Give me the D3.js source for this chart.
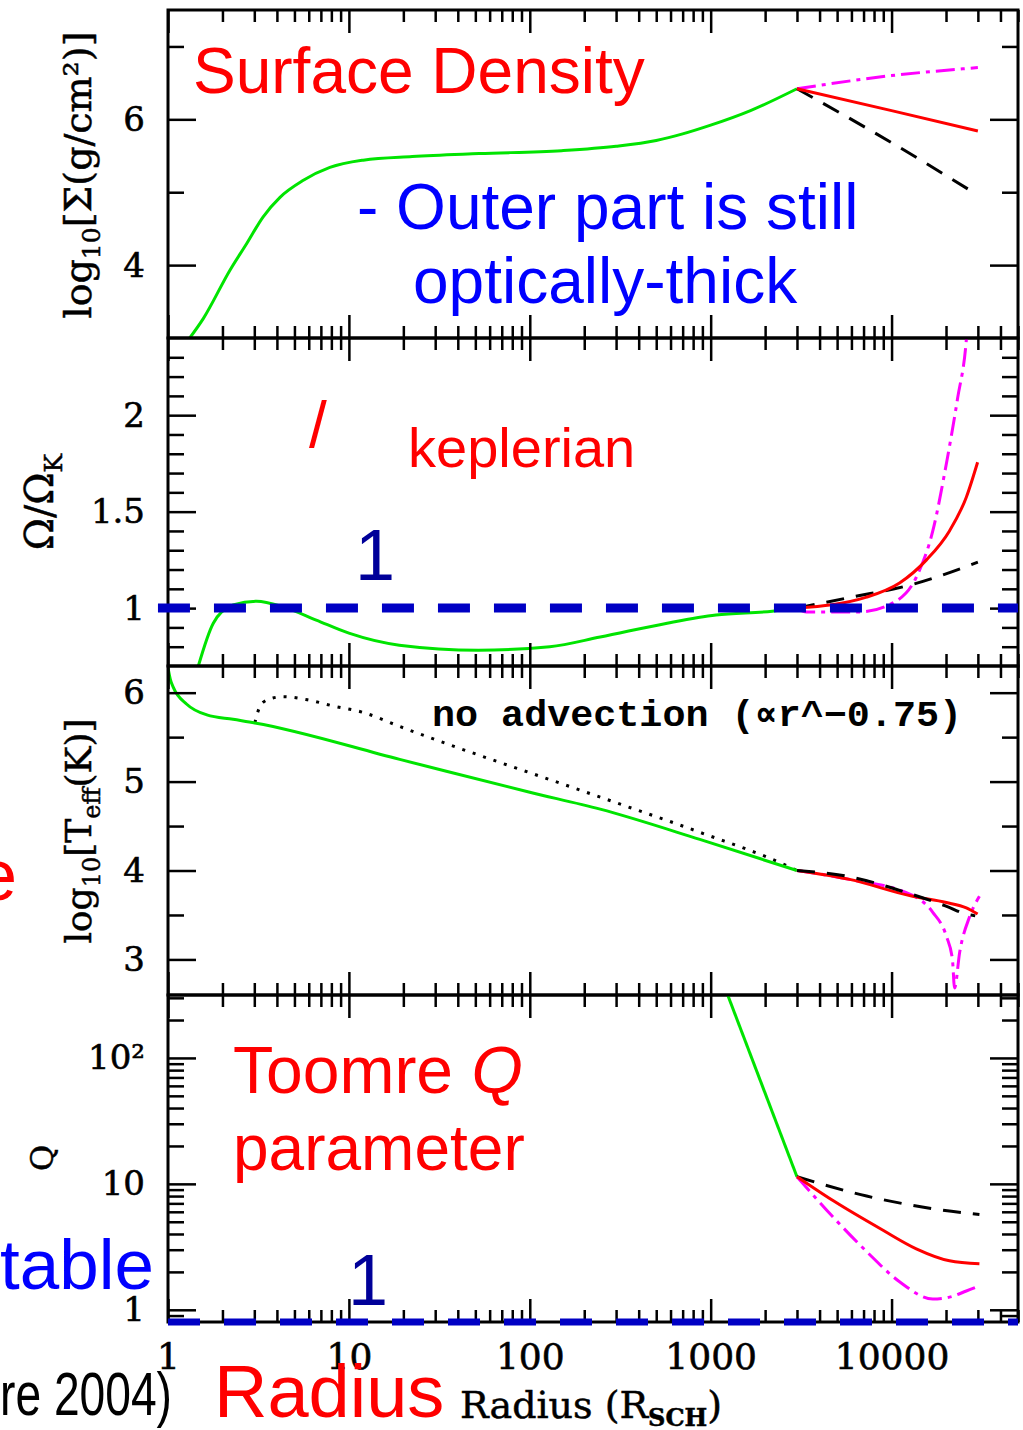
<!DOCTYPE html>
<html>
<head>
<meta charset="utf-8">
<script src="https://cdn.jsdelivr.net/npm/d3@7"></script>
<style>
  body { margin: 0; background: #fff; }
  text { font-family: 'Liberation Sans', Arial, sans-serif; }
  .ax text { font-family: 'DejaVu Serif', serif; fill: #000; stroke: #000; stroke-width: 0.6; }
</style>
</head>
<body>
<script>
// axe des rayons (en rayons de Schwarzschild)
const X_MAJOR = [1, 10, 100, 1000, 10000]
const X_LABELS = ['1', '10', '100', '1000', '10000']

// panneau 1 : densité de surface log10[Σ]
const SIGMA_MAJOR = [4, 6]
const SIGMA_MINOR = [5, 7]
const SIGMA_LABELS = ['4', '6']
const SIGMA_GREEN_R = [1.3, 1.57, 2.2, 2.73, 3.35, 4.16, 5.57, 7.85, 12, 22.4, 52.5, 150, 300, 500, 700, 1000, 1660, 3000]
const SIGMA_GREEN = [2.98, 3.27, 3.93, 4.30, 4.66, 4.93, 5.16, 5.34, 5.44, 5.49, 5.53, 5.57, 5.63, 5.71, 5.80, 5.92, 6.12, 6.42]
const SIGMA_OUT_R = [3000, 10000, 30000]
const SIGMA_RED = [6.42, 6.12, 5.84]
const SIGMA_BLACK = [6.42, 5.68, 4.96]
const SIGMA_MAGENTA = [6.42, 6.60, 6.71]

// panneau 2 : Ω/ΩK
const OMEGA_MAJOR = [1, 1.5, 2]
const OMEGA_MINOR = [0.8, 0.9, 1.1, 1.2, 1.3, 1.4, 1.6, 1.7, 1.8, 1.9, 2.1, 2.2, 2.3]
const OMEGA_LABELS = ['1', '1.5', '2']
const OMEGA_GREEN_R = [1.45, 1.78, 2.29, 3.09, 4.37, 6.6, 10, 19, 52, 129, 245, 575, 1070, 2190, 3000]
const OMEGA_GREEN = [0.68, 0.922, 1.016, 1.036, 1.005, 0.938, 0.870, 0.808, 0.782, 0.80, 0.85, 0.922, 0.964, 0.984, 1.0]
const OMEGA_RED_R = [3000, 7280, 11070, 15600, 20900, 25900, 29900]
const OMEGA_RED = [1.0, 1.057, 1.13, 1.25, 1.40, 1.575, 1.756]
const OMEGA_BLACK_R = [3000, 6000, 12600, 30000]
const OMEGA_BLACK = [1.0, 1.057, 1.119, 1.238]
const OMEGA_MAGENTA_R = [3000, 3390, 6600, 10100, 13700, 16900, 20100, 23200, 25900, 27500]
const OMEGA_MAGENTA = [1.0, 0.98, 0.98, 1.026, 1.16, 1.40, 1.75, 2.09, 2.39, 2.75]
const OMEGA_REF_R = [0.88, 50000]
const OMEGA_REF = 1

// panneau 3 : log10[Teff]
const TEFF_MAJOR = [3, 4, 5, 6]
const TEFF_MINOR = [3.5, 4.5, 5.5]
const TEFF_LABELS = ['3', '4', '5', '6']
const TEFF_GREEN_R = [1.0, 1.03, 1.07, 1.27, 1.64, 2.29, 3.02, 19.1, 100, 245, 871, 3000]
const TEFF_GREEN = [6.28, 6.15, 6.06, 5.87, 5.75, 5.70, 5.66, 5.25, 4.88, 4.69, 4.35, 4.0]
const TEFF_DOT_R = [3.02, 3.1, 3.35, 3.8, 4.32, 5.9, 8.2, 11.9, 19.1, 266, 871, 2730, 3000]
const TEFF_DOT = [5.66, 5.75, 5.89, 5.94, 5.955, 5.92, 5.85, 5.78, 5.62, 4.80, 4.43, 4.04, 4.0]
const TEFF_RED_R = [3000, 5860, 13070, 20100, 25900, 29900]
const TEFF_RED = [4.0, 3.90, 3.71, 3.64, 3.58, 3.51]
const TEFF_BLACK_R = [3000, 5860, 12600, 20000, 25900, 29000]
const TEFF_BLACK = [4.0, 3.93, 3.74, 3.60, 3.51, 3.49]
const TEFF_MAGENTA_R = [3000, 5860, 13070, 16900, 20100, 21700, 22300, 23800, 27000, 30600]
const TEFF_MAGENTA = [4.0, 3.90, 3.72, 3.53, 3.26, 3.0, 2.68, 3.08, 3.48, 3.71]

// panneau 4 : paramètre Q de Toomre
const Q_MAJOR = [1, 10, 100]
const Q_MINOR = [0.9, 2, 3, 4, 5, 6, 7, 8, 9, 20, 30, 40, 50, 60, 70, 80, 90, 200, 300]
const Q_LABELS = ['1', '10', '10²']
const Q_GREEN_R = [1242, 3000]
const Q_GREEN = [316, 11.4]
const Q_BLACK_R = [3000, 7280, 16900, 30600]
const Q_BLACK = [11.4, 8.0, 6.35, 5.7]
const Q_RED_R = [3000, 4720, 8920, 13700, 20900, 30600]
const Q_RED = [11.4, 7.4, 4.3, 3.05, 2.45, 2.32]
const Q_MAGENTA_R = [3000, 4720, 7280, 11070, 16900, 20900, 25900, 30600]
const Q_MAGENTA = [11.4, 5.5, 2.9, 1.67, 1.22, 1.26, 1.41, 1.55]
const Q_REF_R = [1, 50000]
const Q_REF = 0.8

// dimensions
const WIDTH = 1023
const HEIGHT = 1430
const LEFT = 168
const RIGHT = 1018
const EDGES = [10, 338, 666, 995, 1322]

const svg = d3.select('body').append('svg')
  .attr('width', WIDTH)
  .attr('height', HEIGHT)

const x = d3.scaleLog().domain([1, 5e4]).range([LEFT, RIGHT])

const xMinor = []
X_MAJOR.forEach(d => { for (let k = 2; k <= 9; k++) if (d * k <= 5e4) xMinor.push(d * k) })

const STYLE = {
  green: { stroke: '#00e400', dash: null },
  red: { stroke: '#ff0000', dash: null },
  black: { stroke: '#000', dash: '18,12' },
  magenta: { stroke: '#ff00ff', dash: '19,6,4,6' },
  dotted: { stroke: '#000', dash: '3,8' }
}

const panels = [
  { y: d3.scaleLinear().domain([3, 7.5]), major: SIGMA_MAJOR, minor: SIGMA_MINOR, labels: SIGMA_LABELS,
    series: [
      [SIGMA_GREEN_R, SIGMA_GREEN, 'green'],
      [SIGMA_OUT_R, SIGMA_MAGENTA, 'magenta'],
      [SIGMA_OUT_R, SIGMA_BLACK, 'black'],
      [SIGMA_OUT_R, SIGMA_RED, 'red']
    ] },
  { y: d3.scaleLinear().domain([0.7, 2.4]), major: OMEGA_MAJOR, minor: OMEGA_MINOR, labels: OMEGA_LABELS,
    series: [
      [OMEGA_GREEN_R, OMEGA_GREEN, 'green'],
      [OMEGA_BLACK_R, OMEGA_BLACK, 'black'],
      [OMEGA_MAGENTA_R, OMEGA_MAGENTA, 'magenta'],
      [OMEGA_RED_R, OMEGA_RED, 'red']
    ] },
  { y: d3.scaleLinear().domain([2.6, 6.3]), major: TEFF_MAJOR, minor: TEFF_MINOR, labels: TEFF_LABELS,
    series: [
      [TEFF_DOT_R, TEFF_DOT, 'dotted'],
      [TEFF_GREEN_R, TEFF_GREEN, 'green'],
      [TEFF_MAGENTA_R, TEFF_MAGENTA, 'magenta'],
      [TEFF_RED_R, TEFF_RED, 'red'],
      [TEFF_BLACK_R, TEFF_BLACK, 'black']
    ] },
  { y: d3.scaleLog().domain([0.8, 316]), major: Q_MAJOR, minor: Q_MINOR, labels: Q_LABELS,
    series: [
      [Q_GREEN_R, Q_GREEN, 'green'],
      [Q_BLACK_R, Q_BLACK, 'black'],
      [Q_MAGENTA_R, Q_MAGENTA, 'magenta'],
      [Q_RED_R, Q_RED, 'red']
    ] }
]

panels.forEach((p, i) => {
  const top = EDGES[i]
  const bottom = EDGES[i + 1]
  p.y.range([bottom, top])
  const g = svg.append('g')

  // zone de découpe
  g.append('clipPath').attr('id', 'clip' + i)
    .append('rect').attr('x', LEFT).attr('y', top)
    .attr('width', RIGHT - LEFT).attr('height', bottom - top)

  const plot = g.append('g').attr('clip-path', `url(#clip${i})`)
  p.series.forEach(([rs, vs, s]) => {
    const line = d3.line()
      .x(d => x(d[0]))
      .y(d => p.y(d[1]))
      .curve(d3.curveMonotoneX)
    plot.append('path')
      .attr('d', line(d3.zip(rs, vs)))
      .attr('fill', 'none')
      .attr('stroke', STYLE[s].stroke)
      .attr('stroke-width', 3)
      .attr('stroke-dasharray', STYLE[s].dash)
  })

  // graduations
  const ax = g.append('g').attr('class', 'ax')
  const tick = (sel) => sel.call(s => s.select('.domain').remove())
    .call(s => s.selectAll('line').attr('stroke', '#000').attr('stroke-width', 2.5))

  ax.append('g').attr('transform', `translate(0,${top})`)
    .call(d3.axisTop(x).tickValues(X_MAJOR).tickSize(-23).tickFormat('')).call(tick)
  ax.append('g').attr('transform', `translate(0,${top})`)
    .call(d3.axisTop(x).tickValues(xMinor).tickSize(-12).tickFormat('')).call(tick)
  ax.append('g').attr('transform', `translate(0,${bottom})`)
    .call(d3.axisBottom(x).tickValues(X_MAJOR).tickSize(-23).tickPadding(21)
      .tickFormat((d, k) => i === 3 ? X_LABELS[k] : '')).call(tick)
    .selectAll('text').attr('font-size', 36)
  ax.append('g').attr('transform', `translate(0,${bottom})`)
    .call(d3.axisBottom(x).tickValues(xMinor).tickSize(-12).tickFormat('')).call(tick)

  ax.append('g').attr('transform', `translate(${LEFT},0)`)
    .call(d3.axisLeft(p.y).tickValues(p.major).tickSize(-28).tickPadding(23)
      .tickFormat((d, k) => p.labels[k])).call(tick)
    .selectAll('text').attr('font-size', 34)
  ax.append('g').attr('transform', `translate(${LEFT},0)`)
    .call(d3.axisLeft(p.y).tickValues(p.minor).tickSize(-16).tickFormat('')).call(tick)
  ax.append('g').attr('transform', `translate(${RIGHT},0)`)
    .call(d3.axisRight(p.y).tickValues(p.major).tickSize(-28).tickFormat('')).call(tick)
  ax.append('g').attr('transform', `translate(${RIGHT},0)`)
    .call(d3.axisRight(p.y).tickValues(p.minor).tickSize(-16).tickFormat('')).call(tick)

  g.append('rect')
    .attr('x', LEFT).attr('y', top)
    .attr('width', RIGHT - LEFT).attr('height', bottom - top)
    .attr('fill', 'none').attr('stroke', '#000').attr('stroke-width', 3)
})

// lignes de référence bleues
const refLine = (rs, v, yScale, w) => svg.append('line')
  .attr('x1', x(rs[0])).attr('x2', x(rs[1]))
  .attr('y1', yScale(v)).attr('y2', yScale(v))
  .attr('stroke', '#0000c4').attr('stroke-width', w)
  .attr('stroke-dasharray', '32,24')
refLine(OMEGA_REF_R, OMEGA_REF, panels[1].y, 9)
refLine(Q_REF_R, Q_REF, panels[3].y, 7)

// titres des axes
const serif = "'DejaVu Serif', serif"
const axisTitle = (tx, ty, size) => svg.append('text')
  .attr('transform', `translate(${tx},${ty}) rotate(-90)`)
  .attr('text-anchor', 'middle').attr('font-size', size)
  .attr('stroke', '#000').attr('stroke-width', 0.5)
  .style('font-family', serif)

const t1 = axisTitle(91, 175, 38)
t1.append('tspan').text('log')
t1.append('tspan').attr('font-size', 25).attr('dy', 9).text('10')
t1.append('tspan').attr('dy', -9).text('[Σ(g/cm²)]')

const t2 = axisTitle(53, 502, 39)
t2.append('tspan').text('Ω/Ω')
t2.append('tspan').attr('font-size', 25).attr('dy', 9).text('K')

const t3 = axisTitle(91, 831, 36)
t3.append('tspan').text('log')
t3.append('tspan').attr('font-size', 24).attr('dy', 9).text('10')
t3.append('tspan').attr('dy', -9).text('[T')
t3.append('tspan').attr('font-size', 24).attr('dy', 9).text('eff')
t3.append('tspan').attr('dy', -9).text('(K)]')

axisTitle(53, 1158, 32).text('Q')

const tx = svg.append('text').attr('x', 460).attr('y', 1418)
  .attr('font-size', 38).attr('stroke', '#000').attr('stroke-width', 0.5)
  .style('font-family', serif)
tx.append('tspan').text('Radius (R')
tx.append('tspan').attr('font-size', 24).attr('dy', 8).attr('font-weight', 'bold').text('SCH')
tx.append('tspan').attr('dy', -8).text(')')

svg.append('text').attr('x', 432).attr('y', 726)
  .attr('font-size', 36).attr('font-weight', 'bold')
  .attr('textLength', 530).attr('lengthAdjust', 'spacingAndGlyphs')
  .style('font-family', "'Liberation Mono', monospace")
  .text('no advection (∝r^−0.75)')

// annotations
const note = (txt, xx, yy, size, color) => svg.append('text')
  .attr('x', xx).attr('y', yy).attr('font-size', size).attr('fill', color).text(txt)

note('Surface Density', 193, 93, 64, '#ff0000')
note('- Outer part is still', 357, 229, 64, '#0000ff')
note('optically-thick', 413, 303, 64, '#0000ff')
note('/', 309, 447, 64, '#ff0000')
note('keplerian', 408, 467, 56, '#ff0000')
note('1', 355, 580, 72, '#000099')
note('e', 17, 900, 72, '#ff0000').attr('text-anchor', 'end')
const tq = note('Toomre ', 233, 1093, 66, '#ff0000')
tq.append('tspan').attr('font-style', 'italic').text('Q')
note('parameter', 233, 1170, 64, '#ff0000')
note('1', 348, 1305, 72, '#000099')
note('table', 0, 1289, 71, '#0000ff')
note('re 2004)', 0, 1415, 62, '#000')
  .attr('textLength', 172).attr('lengthAdjust', 'spacingAndGlyphs')
note('Radius', 214, 1417, 74, '#ff0000')
</script>
</body>
</html>
